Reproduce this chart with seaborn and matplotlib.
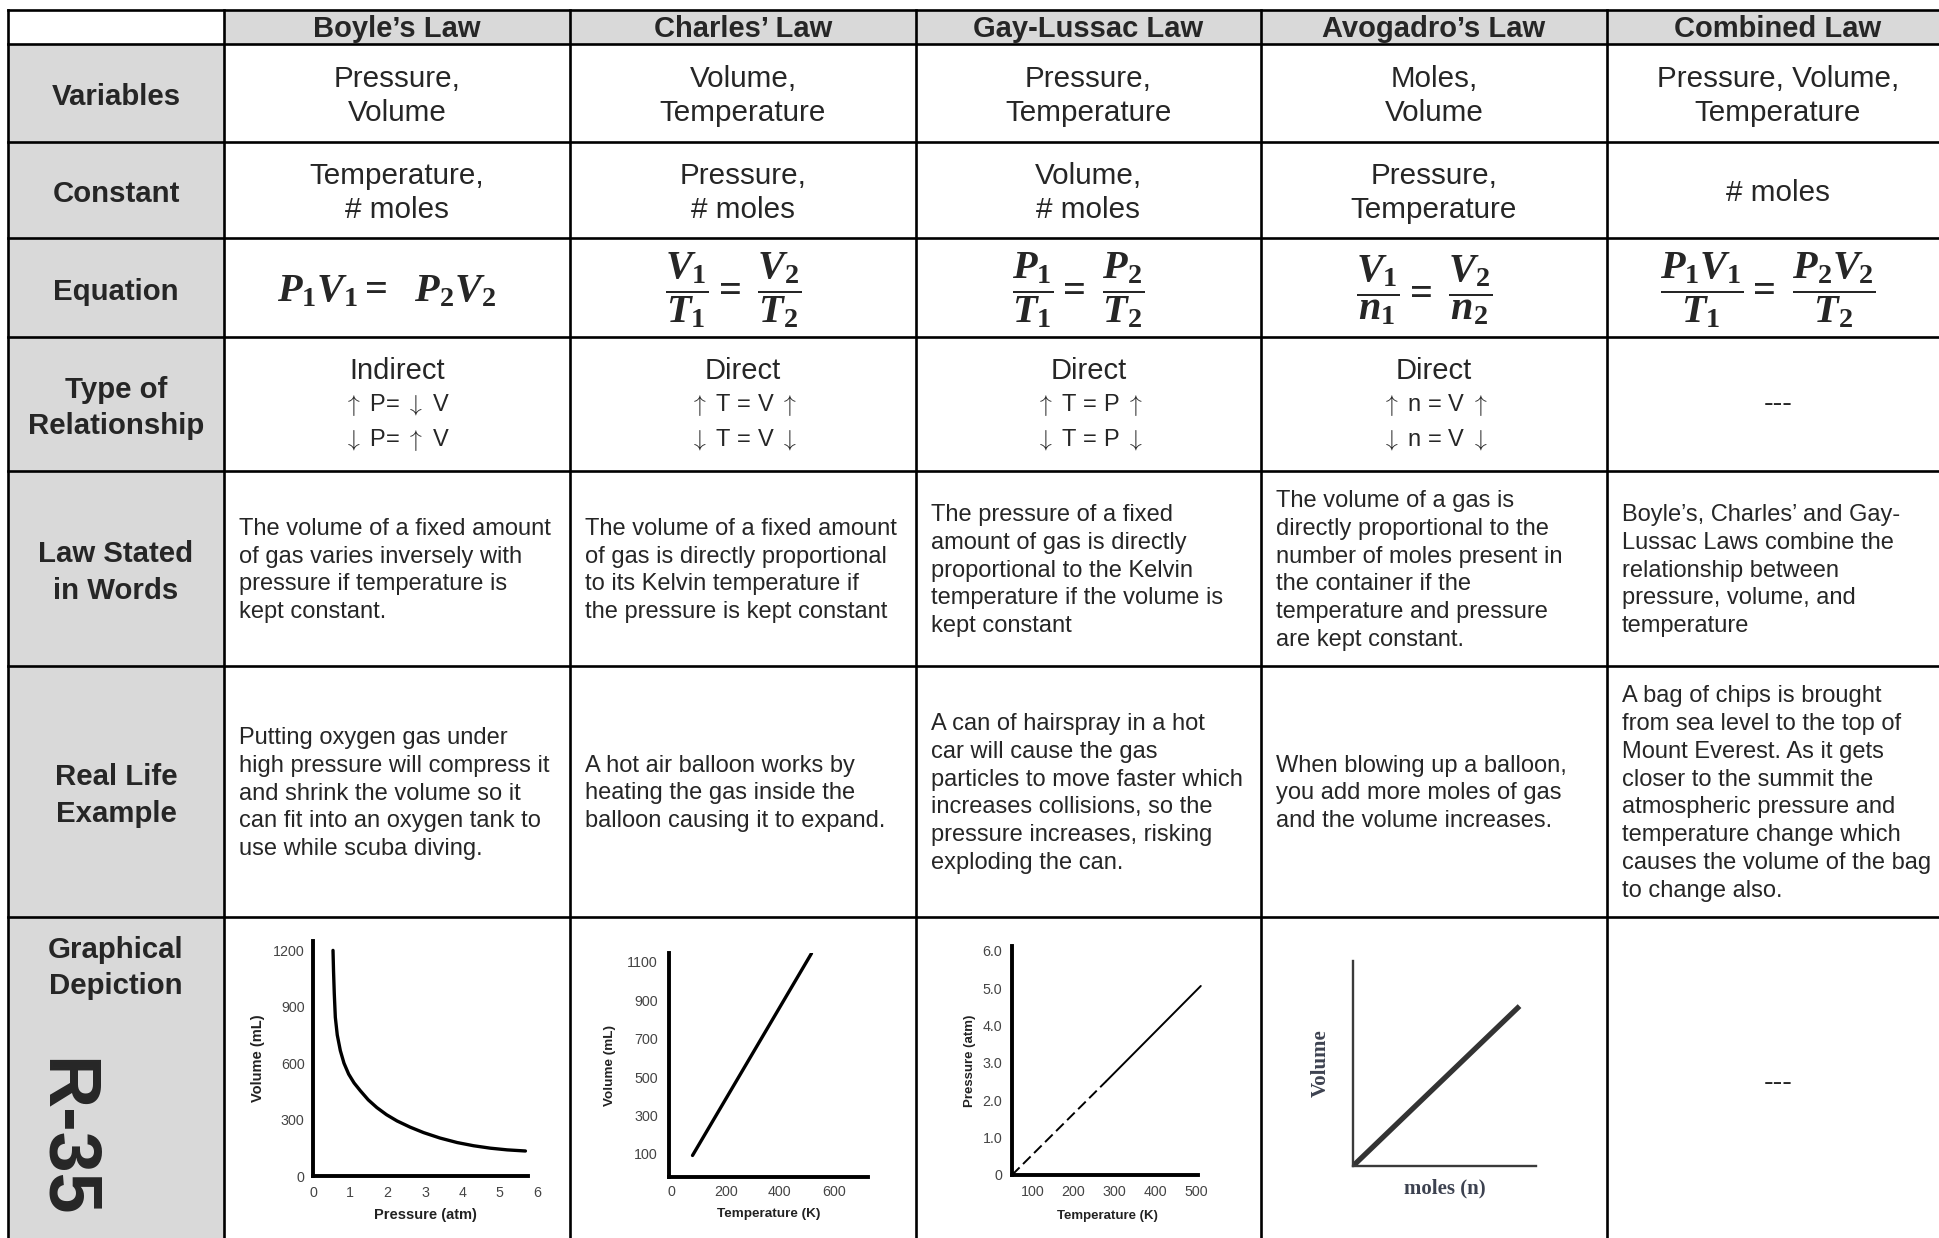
import numpy as np
import pandas as pd
import matplotlib.pyplot as plt
import seaborn as sns
from matplotlib.patches import Rectangle

sns.set_theme(style="white")
plt.rcParams["font.family"] = ["Liberation Sans", "DejaVu Sans"]
plt.rcParams["mathtext.fontset"] = "custom"
plt.rcParams["mathtext.it"] = "Liberation Serif:italic:bold"
plt.rcParams["mathtext.rm"] = "Liberation Serif:bold"
plt.rcParams["mathtext.bf"] = "Liberation Serif:bold"

# ---- table text ----
laws = ["Boyle’s Law", "Charles’ Law", "Gay-Lussac Law", "Avogadro’s Law", "Combined Law"]
row_labels = ["Variables", "Constant", "Equation", "Type of\nRelationship",
              "Law Stated\nin Words", "Real Life\nExample", "Graphical\nDepiction"]
variables = ["Pressure,\nVolume", "Volume,\nTemperature", "Pressure,\nTemperature",
             "Moles,\nVolume", "Pressure, Volume,\nTemperature"]
constants = ["Temperature,\n# moles", "Pressure,\n# moles", "Volume,\n# moles",
             "Pressure,\nTemperature", "# moles"]
equations = [r"$P_1V_1 =\ \ P_2V_2$",
             r"$\dfrac{V_1}{T_1} =\ \dfrac{V_2}{T_2}$",
             r"$\dfrac{P_1}{T_1} =\ \dfrac{P_2}{T_2}$",
             r"$\dfrac{V_1}{n_1} =\ \dfrac{V_2}{n_2}$",
             r"$\dfrac{P_1V_1}{T_1} =\ \dfrac{P_2V_2}{T_2}$"]
relation = ["Indirect", "Direct", "Direct", "Direct", "---"]
relation_up = [r"$\uparrow$ P= $\downarrow$ V", r"$\uparrow$ T = V $\uparrow$",
               r"$\uparrow$ T = P $\uparrow$", r"$\uparrow$ n = V $\uparrow$", ""]
relation_down = [r"$\downarrow$ P= $\uparrow$ V", r"$\downarrow$ T = V $\downarrow$",
                 r"$\downarrow$ T = P $\downarrow$", r"$\downarrow$ n = V $\downarrow$", ""]
words = [
    "The volume of a fixed amount\nof gas varies inversely with\npressure if temperature is\nkept constant.",
    "The volume of a fixed amount\nof gas is directly proportional\nto its Kelvin temperature if\nthe pressure is kept constant",
    "The pressure of a fixed\namount of gas is directly\nproportional to the Kelvin\ntemperature if the volume is\nkept constant",
    "The volume of a gas is\ndirectly proportional to the\nnumber of moles present in\nthe container if the\ntemperature and pressure\nare kept constant.",
    "Boyle’s, Charles’ and Gay-\nLussac Laws combine the\nrelationship between\npressure, volume, and\ntemperature",
]
examples = [
    "Putting oxygen gas under\nhigh pressure will compress it\nand shrink the volume so it\ncan fit into an oxygen tank to\nuse while scuba diving.",
    "A hot air balloon works by\nheating the gas inside the\nballoon causing it to expand.",
    "A can of hairspray in a hot\ncar will cause the gas\nparticles to move faster which\nincreases collisions, so the\npressure increases, risking\nexploding the can.",
    "When blowing up a balloon,\nyou add more moles of gas\nand the volume increases.",
    "A bag of chips is brought\nfrom sea level to the top of\nMount Everest. As it gets\ncloser to the summit the\natmospheric pressure and\ntemperature change which\ncauses the volume of the bag\nto change also.",
]

# ---- graph data ----
boyle_pressure = [0.536, 0.55, 0.57, 0.598, 0.65, 0.732, 0.83, 0.955, 1.1, 1.27, 1.48,
                  1.71, 1.97, 2.25, 2.6, 2.96, 3.4, 3.86, 4.3, 4.75, 5.2, 5.69]
boyle_volume = [1200, 1090, 970, 844, 750, 667, 600, 542, 495, 453, 405,
                364, 326, 293, 260, 231, 202, 178, 161, 148, 139, 133]
boyle_xticks = [0, 1, 2, 3, 4, 5, 6]
boyle_yticks = [0, 300, 600, 900, 1200]

charles_temp = [77, 517]
charles_volume = [92, 1143]
charles_xticks = [0, 200, 400, 600]
charles_yticks = [100, 300, 500, 700, 900, 1100]

gay_temp_dashed = [49, 280]
gay_press_dashed = [0, 2.51]
gay_temp_solid = [280, 512]
gay_press_solid = [2.51, 5.06]
gay_xticks = [100, 200, 300, 400, 500]
gay_yticks = [0, 1, 2, 3, 4, 5, 6]
gay_yticklabels = ["0", "1.0", "2.0", "3.0", "4.0", "5.0", "6.0"]

avo_moles = [0, 0.91]
avo_volume = [0, 0.78]

# ---- layout (pixels) ----
W, H = 1940, 1238
col_edges = [8, 224, 570, 916, 1261, 1607, 1950]
row_edges = [10, 44, 142, 238, 337, 471, 666, 917, 1250]
gray = "#d9d9d9"

fig = plt.figure(figsize=(W / 100, H / 100), dpi=100)
ax = fig.add_axes([0, 0, 1, 1])
ax.set_xlim(0, W)
ax.set_ylim(H, 0)
ax.axis("off")

# shaded header cells and label column
ax.add_patch(Rectangle((col_edges[1], row_edges[0]), col_edges[-1] - col_edges[1],
                       row_edges[1] - row_edges[0], color=gray, lw=0))
ax.add_patch(Rectangle((col_edges[0], row_edges[1]), col_edges[1] - col_edges[0],
                       row_edges[-1] - row_edges[1], color=gray, lw=0))

for y in row_edges[:-1]:
    ax.plot([col_edges[0], col_edges[-1]], [y, y], color="black", lw=1.9, solid_capstyle="projecting")
for x in col_edges[:-1]:
    ax.plot([x, x], [row_edges[0], row_edges[-1]], color="black", lw=1.9, solid_capstyle="projecting")

row_mid = [(row_edges[i] + row_edges[i + 1]) / 2 for i in range(len(row_edges) - 1)]
col_mid = [(col_edges[i] + col_edges[i + 1]) / 2 for i in range(len(col_edges) - 1)]
col_mid[-1] = 1778

for i, name in enumerate(laws):
    ax.text(col_mid[i + 1], row_mid[0] + 2, name, ha="center", va="center",
            fontsize=21, fontweight="bold")

label_y = [m + 4 for m in row_mid[1:]]
label_y[-1] = 968
for i, lab in enumerate(row_labels):
    ax.text(col_mid[0], label_y[i], lab, ha="center", va="center",
            fontsize=21.2, fontweight="bold", linespacing=1.37)

ax.text(64, 1138, "R-35", rotation=270, ha="center", va="center",
        fontsize=53, fontweight="bold")

for i in range(5):
    cx = col_mid[i + 1]
    left = col_edges[i + 1] + 15
    ax.text(cx, row_mid[1] + 3, variables[i], ha="center", va="center",
            fontsize=21.3, linespacing=1.3)
    ax.text(cx, row_mid[2] + 3, constants[i], ha="center", va="center",
            fontsize=21.3, linespacing=1.3)
    ax.text(cx - 10, row_mid[3] + 3, equations[i], ha="center", va="center",
            fontsize=29)
    if relation_up[i]:
        ax.text(cx, 371, relation[i], ha="center", va="center", fontsize=21)
        ax.text(cx, 405, relation_up[i], ha="center", va="center", fontsize=17,
                math_fontfamily="cm")
        ax.text(cx, 440, relation_down[i], ha="center", va="center", fontsize=17,
                math_fontfamily="cm")
    else:
        ax.text(cx, row_mid[4], relation[i], ha="center", va="center", fontsize=21)
    ax.text(left, row_mid[5] + 2, words[i], ha="left", va="center",
            fontsize=17, linespacing=1.34)
    ax.text(left, row_mid[6] + 2, examples[i], ha="left", va="center",
            fontsize=17, linespacing=1.34)

ax.text(col_mid[5], 1083, "---", ha="center", va="center", fontsize=21)


def graph_axes(x0, x1, y_top, y_bottom):
    return fig.add_axes([x0 / W, 1 - y_bottom / H, (x1 - x0) / W, (y_bottom - y_top) / H])


def style_graph(g, spine_lw=2.8, spine_color="black"):
    sns.despine(ax=g)
    g.set_facecolor("none")
    for s in ("left", "bottom"):
        g.spines[s].set_linewidth(spine_lw)
        g.spines[s].set_color(spine_color)
    g.tick_params(length=0, labelsize=10.3, labelcolor="#444444")


# Boyle's law
g1 = graph_axes(313, 537, 941, 1176)
sns.lineplot(data=pd.DataFrame({"P": boyle_pressure, "V": boyle_volume}), x="P", y="V",
             ax=g1, color="black", lw=2.4, sort=False)
g1.set_xlim(0, 6)
g1.set_ylim(0, 1250)
style_graph(g1)
g1.spines["bottom"].set_bounds(0, 5.75)
g1.set_xticks(boyle_xticks)
g1.set_yticks(boyle_yticks)
g1.tick_params(axis="y", pad=6)
g1.tick_params(axis="x", pad=7)
g1.set_xlabel("Pressure (atm)", fontsize=10.5, fontweight="bold", color="#222222", labelpad=6)
g1.set_ylabel("Volume (mL)", fontsize=10.5, fontweight="bold", color="#222222", labelpad=6)

# Charles' law
g2 = graph_axes(669, 868, 953, 1177)
sns.lineplot(data=pd.DataFrame({"T": charles_temp, "V": charles_volume}), x="T", y="V",
             ax=g2, color="black", lw=2.4)
g2.set_xlim(-10, 726)
g2.set_ylim(-20, 1145)
style_graph(g2)
g2.set_xticks(charles_xticks)
g2.set_yticks(charles_yticks)
g2.tick_params(axis="y", pad=8)
g2.tick_params(axis="x", pad=6)
g2.set_xlabel("Temperature (K)", fontsize=9.7, fontweight="bold", color="#222222", labelpad=6)
g2.set_ylabel("Volume (mL)", fontsize=9.7, fontweight="bold", color="#222222", labelpad=8)

# Gay-Lussac law
g3 = graph_axes(1012, 1202, 946, 1175)
sns.lineplot(data=pd.DataFrame({"T": gay_temp_dashed, "P": gay_press_dashed}), x="T", y="P",
             ax=g3, color="black", lw=1.4, linestyle=(0, (5.5, 2.5)))
sns.lineplot(data=pd.DataFrame({"T": gay_temp_solid, "P": gay_press_solid}), x="T", y="P",
             ax=g3, color="black", lw=1.4)
g3.set_xlim(49, 515)
g3.set_ylim(0, 6.13)
style_graph(g3)
g3.spines["bottom"].set_bounds(49, 504)
g3.set_xticks(gay_xticks)
g3.set_yticks(gay_yticks)
g3.set_yticklabels(gay_yticklabels)
g3.tick_params(axis="y", pad=7)
g3.tick_params(axis="x", pad=7)
g3.set_xlabel("Temperature (K)", fontsize=9.5, fontweight="bold", color="#222222", labelpad=8)
g3.set_ylabel("Pressure (atm)", fontsize=9.5, fontweight="bold", color="#222222", labelpad=5)

# Avogadro's law
g4 = graph_axes(1353, 1536, 961, 1166)
sns.lineplot(data=pd.DataFrame({"n": avo_moles, "V": avo_volume}), x="n", y="V",
             ax=g4, color="#333333", lw=3.8, solid_capstyle="butt")
g4.set_xlim(0, 1)
g4.set_ylim(0, 1)
style_graph(g4, spine_lw=1.7, spine_color="#3a3a3a")
g4.set_xticks([])
g4.set_yticks([])
g4.set_xlabel("moles (n)", fontsize=15, fontweight="bold", color="#3d4250",
              family="Liberation Serif", labelpad=9)
g4.set_ylabel("Volume", fontsize=15, fontweight="bold", color="#3d4250",
              family="Liberation Serif", labelpad=16)

fig.savefig("out.png", dpi=100)
